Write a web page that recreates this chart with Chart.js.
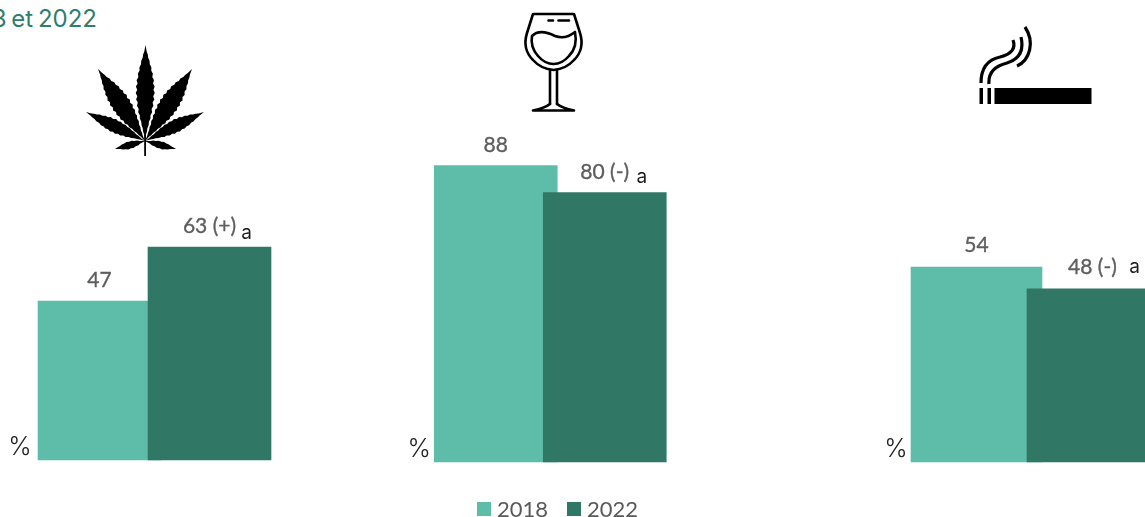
<!DOCTYPE html>
<html lang="fr">
<head>
<meta charset="utf-8">
<title>2018 et 2022</title>
<script src="https://cdn.jsdelivr.net/npm/chart.js@4"></script>
<style>
  html, body { margin: 0; padding: 0; background: #fff; width: 1145px; height: 517px; overflow: hidden; }
  canvas { position: absolute; left: 0; top: 0; }
  svg { position: absolute; left: 0; top: 0; }
  #heading { position: absolute; right: 1048px; top: 4px; white-space: nowrap; font: 400 24px Inter, sans-serif; word-spacing: -2px; color: #2f7d6b; }
  #legend { position: absolute; left: 477px; top: 496px; display: flex; align-items: center; font: 22px Lato, sans-serif; color: #595959; line-height: 26px; }
  #legend i { width: 14px; height: 14px; margin-right: 6px; display: block; }
  #legend span { margin-right: 19px; }
</style>
</head>
<body>
<div id="heading">2018 et 2022</div>
<svg id="icons" width="1145" height="517" viewBox="0 0 1145 517">
  <path id="leaf" fill="#000"></path>
  <rect x="144.2" y="135" width="1.8" height="21" fill="#000"></rect>
  <g fill="none" stroke="#000" stroke-width="2.6" stroke-linecap="round" stroke-linejoin="round">
    <path d="M533 14 L574 14 L580 33 Q585 49 574 60 Q566 69 553.5 70 Q541 69 533 60 Q522 49 527 33 Z"></path>
    <path d="M532 36 C539 29 549 33 555 36 C563 39 570 36 575 32 Q578 47 569 56 Q562 64 553.5 64 Q545 64 538 56 Q530 47 532 36 Z"></path>
    <path d="M550 70 L550 104 M557 70 L557 104"></path>
    <path d="M533 110.5 L574 110.5 M550 104 Q545 108 533 110.5 M557 104 Q562 108 574 110.5"></path>
    <path d="M548.5 20.5 L553 20.5 M558.5 20.5 L569 20.5"></path>
  </g>
  <g fill="#000">
    <rect x="994.5" y="88" width="97" height="16"></rect>
    <rect x="979.5" y="88" width="3.5" height="16"></rect>
    <rect x="987.5" y="88" width="3.5" height="16"></rect>
  </g>
  <g fill="none" stroke="#000" stroke-width="3.2">
    <path d="M981 83 C981 70 986 60 1000 57 C1012 54 1016 48 1013 40"></path>
    <path d="M989 84 C988 72 995 66 1007 63 C1020 59 1024 50 1021 37"></path>
    <path d="M1017 66 C1030 60 1035 42 1025 27"></path>
  </g>
</svg>
<canvas id="cannabis" width="1200" height="517"></canvas>
<canvas id="alcool" width="1200" height="517"></canvas>
<canvas id="tabac" width="1200" height="517"></canvas>
<div id="legend"></div>
<script>
// Survey years and the share (%) reported for each product
const years = ['2018', '2022'];
const cannabisValues = [47, 63];
const alcoolValues = [88, 80];
const tabacValues = [54, 48];

// Text shown next to each value
const cannabisSuffixes = ['', ' (+)'];
const alcoolSuffixes = ['', ' (-)'];
const tabacSuffixes = ['', ' (-)'];

const yearColors = ['#5dbda8', '#307865'];
const CANVAS_WIDTH = 1200;

// Writes the value above each bar, the significance letter and the % sign
const barNotes = {
  id: 'barNotes',
  afterDatasetsDraw(chart, args, opts) {
    const { ctx } = chart;
    ctx.save();
    ctx.textAlign = 'center';
    ctx.textBaseline = 'middle';
    chart.data.datasets.forEach((ds, d) => {
      const bar = chart.getDatasetMeta(d).data[d];
      const cx = bar.x;
      const cy = bar.y - opts.labelGap[d];
      const label = ds.data[d] + opts.suffixes[d];
      ctx.font = '21px Lato, sans-serif';
      ctx.fillStyle = '#5e5e5e';
      ctx.strokeStyle = '#5e5e5e';
      ctx.lineWidth = 0.35;
      ctx.fillText(label, cx, cy);
      ctx.strokeText(label, cx, cy);
      if (d === 1) {
        ctx.font = '19px Inter, sans-serif';
        ctx.fillStyle = '#1c1c1c';
        ctx.fillText(opts.note, cx + opts.noteDx, cy + opts.noteDy);
      }
    });
    const first = chart.getDatasetMeta(0).data[0];
    ctx.font = '300 25px Inter, sans-serif';
    ctx.fillStyle = '#222';
    ctx.fillText('%', first.x - chart.options.datasets.bar.barThickness / 2 - opts.percentGap, chart.scales.y.getPixelForValue(0) - 13);
    ctx.restore();
  }
};

function drawPanel(id, values, suffixes, geo, notes) {
  return new Chart(document.getElementById(id), {
    type: 'bar',
    data: {
      labels: years,
      datasets: years.map((year, i) => ({
        label: year,
        data: values.map((v, j) => (j === i ? v : null)),
        backgroundColor: yearColors[i],
        clip: false,
        // the later year overlaps the earlier one
        order: years.length - i
      }))
    },
    options: {
      responsive: false,
      animation: false,
      layout: {
        padding: {
          left: geo.center - geo.step / 2,
          right: CANVAS_WIDTH - (geo.center + geo.step * 1.5),
          top: geo.top,
          bottom: 517 - geo.bottom
        }
      },
      datasets: { bar: { grouped: false, barThickness: geo.barWidth } },
      scales: {
        x: { display: false },
        y: { display: false, min: 0, max: 100 }
      },
      plugins: {
        legend: { display: false },
        tooltip: { enabled: false },
        barNotes: Object.assign({ suffixes }, notes)
      }
    },
    plugins: [barNotes]
  });
}

drawPanel('cannabis', cannabisValues, cannabisSuffixes,
  { center: 99.5, step: 110, barWidth: 123, top: 122, bottom: 460 },
  { labelGap: [21, 21], note: 'a', noteDx: 37, noteDy: 7, percentGap: 18 });
drawPanel('alcool', alcoolValues, alcoolSuffixes,
  { center: 495.75, step: 109, barWidth: 123, top: 125.3, bottom: 462 },
  { labelGap: [20.5, 20.5], note: 'a', noteDx: 37, noteDy: 5, percentGap: 15 });
drawPanel('tabac', tabacValues, tabacSuffixes,
  { center: 976.5, step: 116, barWidth: 131, top: 101, bottom: 462 },
  { labelGap: [22, 21], note: 'a', noteDx: 42, noteDy: 0, percentGap: 15 });

// Shared legend for the three panels
const legendBox = document.getElementById('legend');
years.forEach((year, i) => {
  const swatch = document.createElement('i');
  swatch.style.background = yearColors[i];
  const text = document.createElement('span');
  text.textContent = year;
  legendBox.append(swatch, text);
});

// Cannabis leaf: seven serrated leaflets radiating from one point
function leaflet(bx, by, tx, ty, halfWidth, teeth) {
  const dx = tx - bx, dy = ty - by;
  const len = Math.hypot(dx, dy);
  const nx = -dy / len, ny = dx / len;
  const edge = side => {
    const pts = [];
    for (let k = 0; k <= teeth * 2; k++) {
      const t = k / (teeth * 2);
      const profile = Math.pow(Math.sin(Math.PI * Math.pow(t, 1.05)), 1.25);
      const w = halfWidth * profile * (k % 2 ? 1.06 : 0.9) * side;
      pts.push([bx + dx * t + nx * w, by + dy * t + ny * w]);
    }
    return pts;
  };
  const points = edge(1).concat(edge(-1).reverse());
  return 'M' + points.map(p => p[0].toFixed(1) + ' ' + p[1].toFixed(1)).join('L') + 'Z';
}
document.getElementById('leaf').setAttribute('d', [
  leaflet(145, 141, 145.5, 45, 9, 15),
  leaflet(145, 141, 98, 69, 9.5, 15),
  leaflet(145, 141, 192, 69, 9.5, 15),
  leaflet(145, 141, 86, 112, 6.5, 12),
  leaflet(145, 141, 204, 112, 6.5, 12),
  leaflet(145, 141, 115, 149, 3.8, 6),
  leaflet(145, 141, 176, 149, 3.8, 6)
].join(''));
</script>
</body>
</html>
